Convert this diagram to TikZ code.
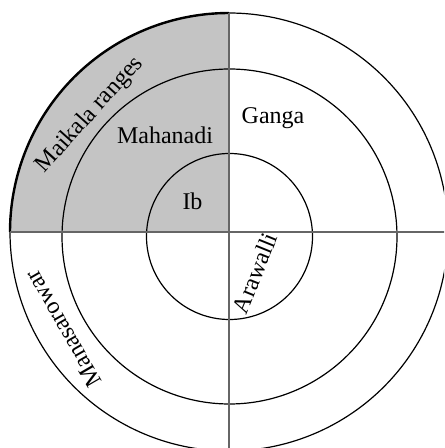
\documentclass[tikz,border=0pt]{standalone}
\usepackage{fontspec}
\setmainfont{Liberation Serif}

\tikzset{%
  ring/.style={draw, line width=0.6pt},
  axis/.style={draw, color=black!60, line width=0.7pt},
  greyzone/.style={fill=black!23},
  rim/.style={draw, line width=1.2pt},
  legenda/.style={inner sep=0pt, font=\fontsize{12}{14}\selectfont},
}

\begin{document}
\begin{tikzpicture}[x=0.5pt, y=0.5pt]
\useasboundingbox (-229,-216) rectangle (215,232);
\clip (-229,-216) rectangle (215,232);
\coordinate (o) at (0,0);
\coordinate (left) at (-219,0);
\coordinate (right) at (219,0);
\coordinate (top) at (0,219);
\coordinate (bottom) at (0,-219);
% shaded quarter
\fill[greyzone] (o) -- plot[domain=180:90, samples=61] ({219*cos(\x)},{219*sin(\x)}) -- cycle;
% rings
\draw[ring] plot[domain=0:360, samples=241] ({219*cos(\x)},{219*sin(\x)}) -- cycle;
\foreach \r in {167.5, 83}
  \draw[ring] plot[domain=0:360, samples=241] ({0.5+\r*cos(\x)},{-4.5+\r*sin(\x)}) -- cycle;
\draw[rim] plot[domain=180:90, samples=61] ({219*cos(\x)},{219*sin(\x)});
\draw[axis] (left) -- (right);
\draw[axis] (top) -- (bottom);
% names
\node[legenda] (mahanadi) at (-64,97) {Mahanadi};
\node[legenda] (ib) at (-36.5,31) {Ib};
\node[legenda] (ganga) at (44,113.5) {Ganga};
\node[legenda, rotate=48] (maikala) at (-139,117) {Maikala ranges};
\node[legenda, rotate=68] (arawalli) at (26,-41) {Arawalli};
\node[legenda, rotate=120] (manasarowar) at (-166,-97) {Manasarowar};
\end{tikzpicture}
\end{document}
